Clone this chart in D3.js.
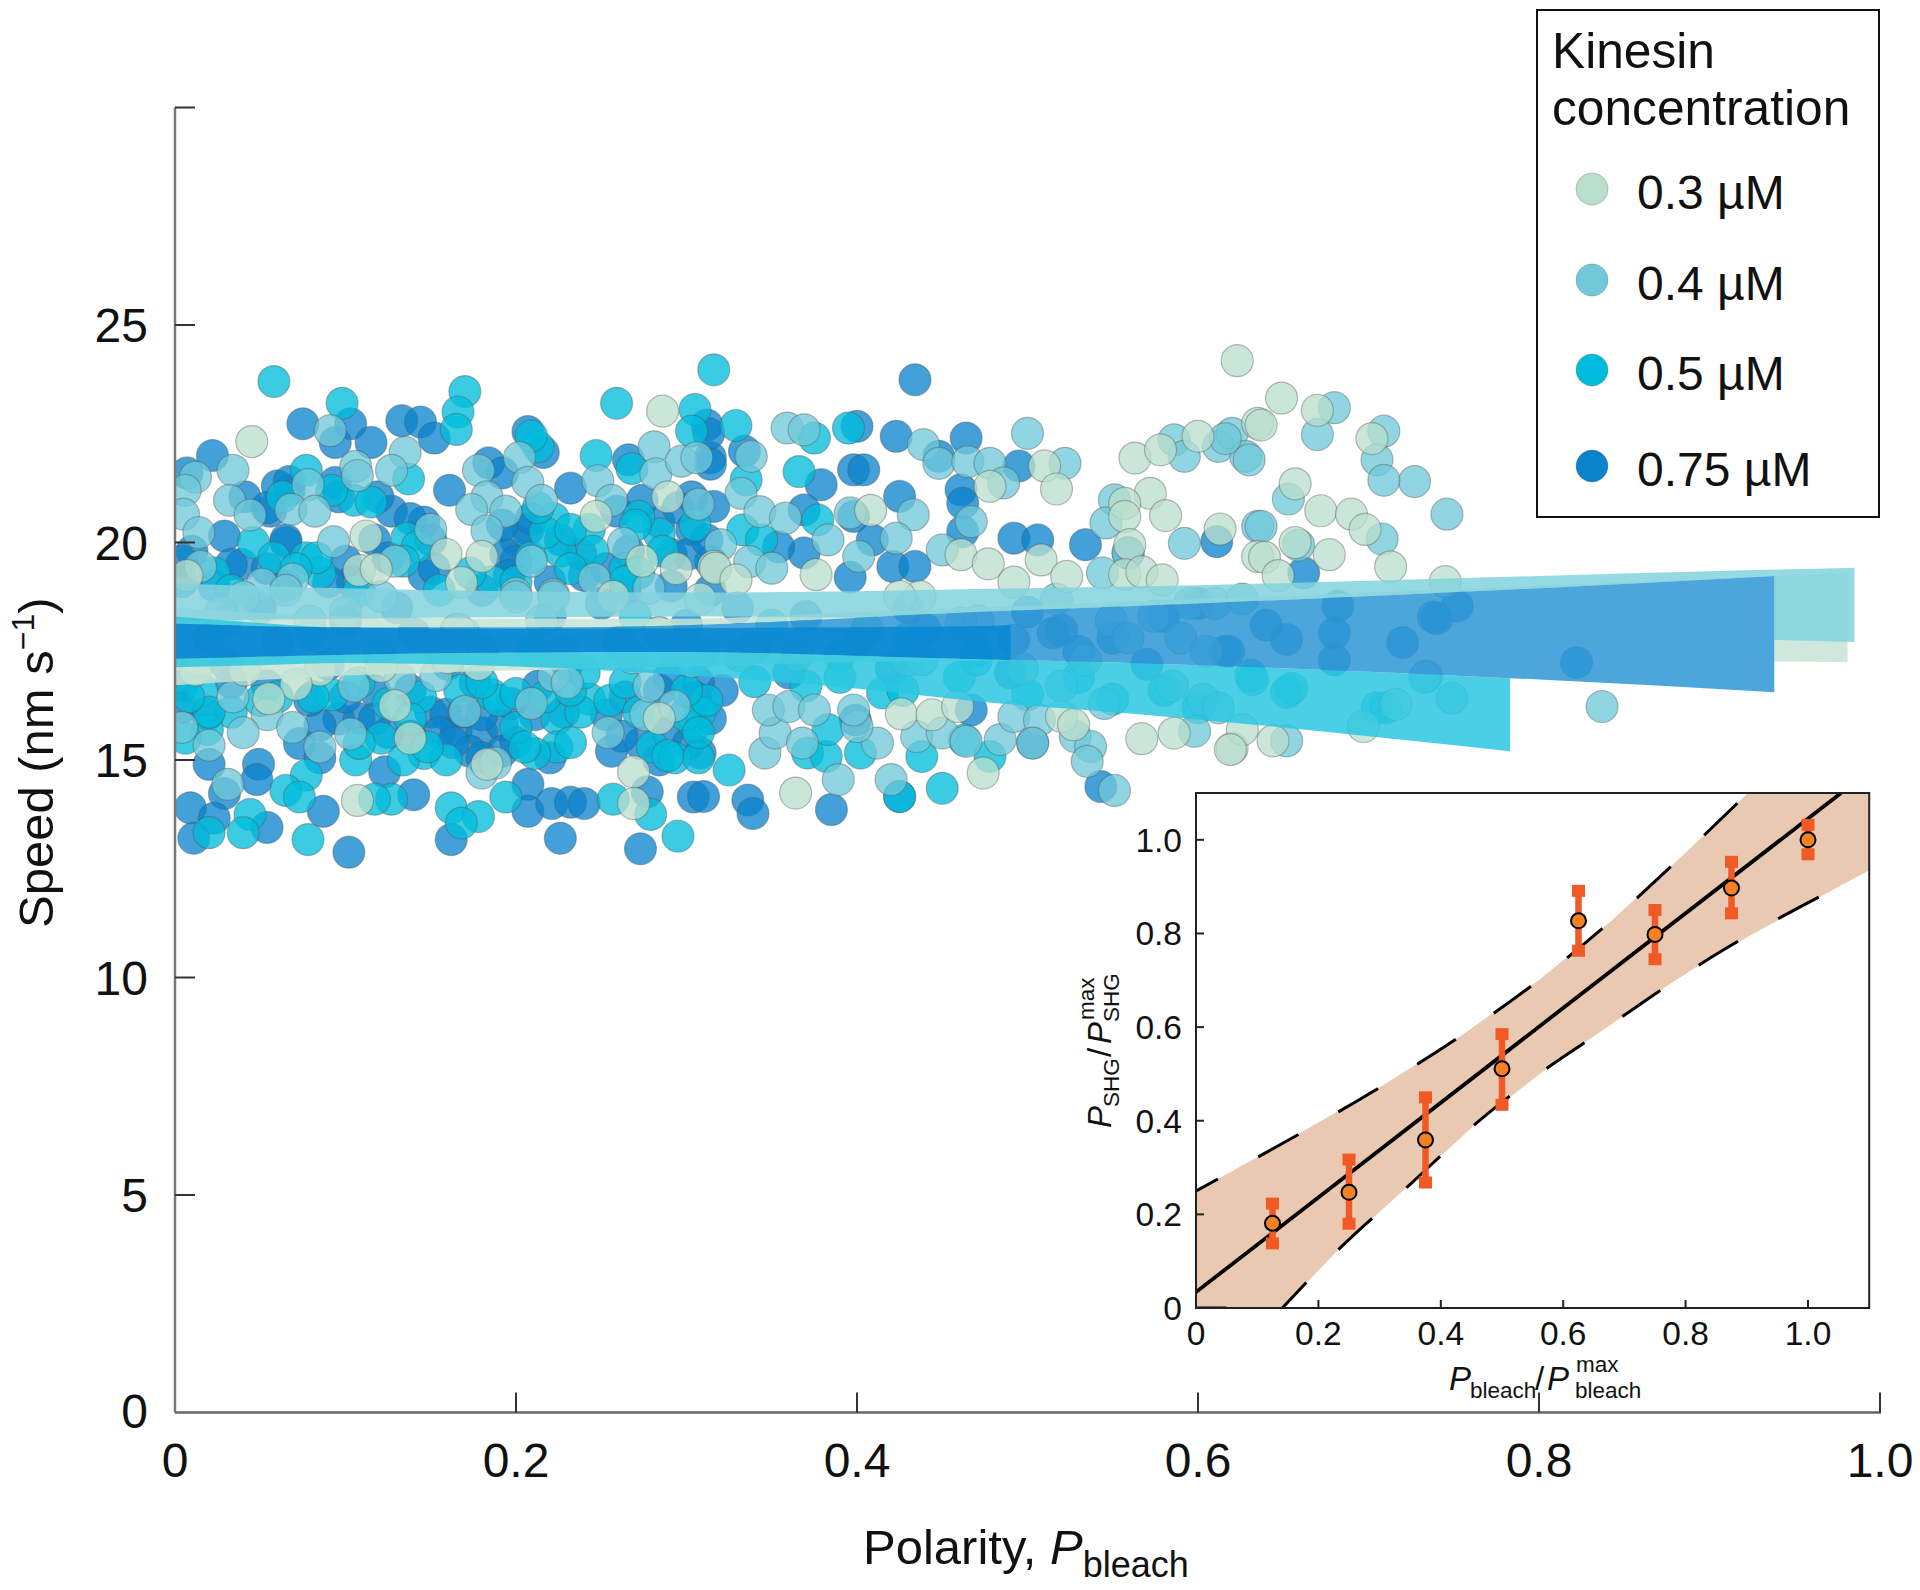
<!DOCTYPE html>
<html><head><meta charset="utf-8">
<script src="https://cdnjs.cloudflare.com/ajax/libs/d3/7.8.5/d3.min.js"></script>
<style>html,body{margin:0;padding:0;background:#fff}svg{display:block}text{font-family:"Liberation Sans",Arial,sans-serif;fill:#111}</style>
</head><body><svg id="c" width="1920" height="1590"></svg>
<script>
// [polarity, speed]
const points075=[[.022,22.0],[.075,22.73],[.103,22.73],[.115,22.3],[.094,22.3],[.133,22.8],[.144,22.77],[.152,22.4],[.207,22.55],[.216,22.07],[.184,21.83],[.192,21.6],[.161,21.2],[.232,21.25],[.266,21.9],[.312,22.7],[.314,21.95],[.007,21.6],[.067,21.2],[.094,21.38],[.041,21.05],[.056,20.72],[.127,20.72],[.146,20.47],[.207,20.3],[.2,20.05],[.303,21.05],[.303,20.3],[.284,20.47],[.029,20.15],[.065,20.0],[.039,19.5],[.1,19.57],[.01,19.8],[.146,19.25],[.194,19.73],[.314,19.57],
[.004,16.7],[.019,16.05],[.096,15.95],[.108,15.95],[.15,16.1],[.165,15.7],[.18,15.63],[.192,15.8],[.192,15.2],[.173,15.2],[.159,16.05],[.073,15.38],[.085,15.05],[.123,14.73],[.22,15.05],[.256,15.2],[.02,14.9],[.049,14.9],[.048,14.55],[.029,14.23],[.009,13.9],[.023,13.66],[.011,13.2],[.054,13.45],[.087,13.82],[.14,14.2],[.207,14.44],[.207,13.82],[.221,14.0],[.232,14.03],[.24,14.0],[.226,13.2],[.273,12.96],[.304,14.15],[.277,14.27],[.102,12.88],[.162,13.17],[.273,15.38],[.305,16.45],
[.434,23.74],[.423,22.44],[.464,22.4],[.4,22.67],[.448,21.98],[.495,21.76],[.398,21.67],[.404,21.67],[.379,21.33],[.313,22.5],[.314,21.8],[.334,22.1],[.461,21.21],[.462,20.9],[.425,21.06],[.369,20.75],[.398,20.6],[.492,20.1],[.506,20.06],[.534,19.95],[.462,20.25],[.369,19.76],[.421,19.45],[.434,19.45],[.409,20.06],[.396,19.2],[.611,20.02],[.559,19.76],[.354,19.9],[.316,20.83],[.321,16.6],[.467,16.15],[.503,15.39],[.543,14.39],[.399,15.92],[.425,14.16],[.336,14.08],[.339,13.77],[.385,13.86],[.31,14.16],[.308,15.16],[.616,17.5],[.515,17.92],[.492,17.76],[.52,17.99],
[.662,19.3],[.74,18.25],[.752,18.54],[.682,18.54],[.68,17.92],[.618,17.5],[.652,17.77],[.822,17.24],[.738,18.29],
[.06,21.3],[.054,20.8],[.067,21.4],[.096,21.05],[.119,21.05],[.138,20.55],[.15,20.06],[.117,20.06],[.065,20.06],[.033,19.5],[.054,19.4],[.192,20.4],[.2,19.57],[.196,19.24],[.209,20.55],[.226,20.06],[.238,19.73],[.253,19.4],[.266,19.8],[.291,19.73],[.301,19.73],[.312,20.06],[.259,20.72],[.274,20.97],[.295,20.8],[.18,18.9],[.152,19.4],[.125,19.65],[.104,19.1],[.09,19.1],[.065,19.0],[.023,19.0],[.004,19.57],[.004,19.1],[.22,19.1],[.24,19.24],[.264,18.9],[.291,19.0],[.314,18.9],
[.155,15.63],[.169,16.1],[.18,16.04],[.197,16.3],[.2,15.4],[.18,15.05],[.163,15.4],[.138,15.55],[.125,15.63],[.117,15.95],[.1,16.45],[.085,15.8],[.079,16.37],[.253,16.04],[.264,16.45],[.262,15.55],[.289,15.63],[.301,15.38],[.314,15.95],[.284,15.0],[.004,16.2],[.033,16.78],[.054,16.7],[.211,16.04],[.228,16.1],[.213,16.7],[.176,16.78],[.138,16.6],[.117,16.6],[.284,16.6],[.307,16.78],
[.02,17.8],[.06,17.7],[.1,18.2],[.14,17.9],[.18,17.5],[.22,18.3],[.26,17.7],[.3,18.1],[.34,17.6],[.37,18.3],[.4,17.7],[.44,18.0],[.47,17.5],[.5,18.4],[.55,17.8],[.58,18.3],[.6,18.6],[.64,18.1],[.68,17.3],[.72,17.7],[.57,17.2],[.53,17.5],[.43,18.5],[.33,18.5],[.25,18.6],[.13,18.5],[.05,18.5],[.03,17.2],[.09,17.2],[.16,17.2],[.23,17.2],[.29,16.9],[.36,17.0],[.42,17.1],[.49,17.0]];
const points05=[[.058,23.7],[.098,23.2],[.17,23.47],[.166,23.0],[.165,22.6],[.259,23.2],[.305,23.06],[.303,22.56],[.247,22.0],[.268,21.7],[.077,21.66],[.137,21.46],[.105,20.97],[.115,20.93],[.222,20.55],[.243,20.3],[.046,20.0],[.077,19.65],[.058,19.65],[.136,20.1],[.209,19.65],[.226,19.8],[.245,19.8],[.264,19.4],[.085,19.3],[.023,19.3],[.186,19.1],[.284,20.2],[.272,20.6],
[.016,16.6],[.033,16.1],[.019,15.7],[.006,15.5],[.092,16.5],[.144,16.45],[.167,16.6],[.186,16.5],[.125,16.3],[.224,15.95],[.2,15.75],[.243,16.4],[.224,15.3],[.211,15.15],[.121,15.5],[.146,15.15],[.159,15.0],[.106,15.0],[.077,14.65],[.065,14.3],[.073,14.15],[.194,14.15],[.232,15.4],[.28,15.3],[.293,15.05],[.307,15.05],[.305,15.8],[.257,14.1],[.279,13.75],[.127,14.1],[.117,14.1],[.044,13.75],[.04,13.33],[.02,13.33],[.078,13.17],[.162,13.9],[.178,13.7],[.168,13.55],[.295,13.25],[.238,16.1],
[.316,23.97],[.329,22.69],[.395,22.63],[.375,22.4],[.366,21.63],[.335,21.44],[.333,20.29],[.344,20.06],[.377,20.52],[.325,14.77],[.371,15.16],[.382,15.08],[.402,15.16],[.438,15.08],[.45,14.35],[.425,14.16],[.478,15.08],[.463,15.46],[.415,16.54],[.427,16.6],[.308,16.1],[.383,15.7],
[.705,16.2],[.632,16.85],[.652,16.56],[.71,16.2],[.655,16.65],[.631,16.95],
[.217,20.23],[.232,20.3],[.27,20.4],[.286,19.8],[.272,19.3],[.232,19.4],[.173,19.3],[.142,19.9],[.134,19.57],[.083,19.65],[.071,19.4],[.063,21.05],[.092,21.2],[.305,20.4],[.213,20.8],[.213,22.2],[.209,22.45],[.264,19.1],[.2,19.1],[.155,18.9],[.108,18.9],[.033,18.9],
[.138,15.95],[.19,16.37],[.2,16.53],[.217,16.45],[.255,16.37],[.272,16.1],[.299,16.04],[.312,16.37],[.289,15.1],[.307,15.63],[.108,15.38],[.134,15],[.148,15.3],[.205,15.3],[.02,16.1],[.008,16.45],[.05,16.37],[.06,16.45],[.081,16.45],[.108,16.78],[.18,16.78],[.232,16.6],[.264,16.78],
[.03,18.2],[.08,17.9],[.12,17.4],[.17,17.9],[.21,17.5],[.27,18.3],[.31,17.5],[.35,18.1],[.39,17.4],[.43,17.8],[.46,16.9],[.34,16.8],[.37,16.7],[.3,16.6],[.24,17],[.53,16.9],[.58,16.6],[.6,16.2],[.55,16.4],[.5,16.5],[.47,17.3],[.39,16.9]];
const points04=[[.034,21.66],[.012,21.5],[.006,21.2],[.005,20.65],[.032,20.97],[.044,20.63],[.091,22.57],[.106,21.75],[.107,21.54],[.135,22.07],[.127,21.66],[.078,21.33],[.068,20.76],[.082,20.72],[.202,21.95],[.178,21.66],[.183,21.05],[.174,20.76],[.194,20.72],[.207,21.38],[.215,20.97],[.248,21.42],[.256,20.97],[.281,22.2],[.282,21.58],[.297,21.87],[.306,21.95],[.307,20.88],[.15,20.3],[.093,20.02],[.183,20.27],[.014,20.23],[.263,19.98],[.015,19.45],[.129,19.57],[.209,19.57],[.246,19.16],[.278,18.95],[.051,19.04],[.069,19.16],[.2,18.83],[.222,18.8],
[.034,16.45],[.054,16.04],[.004,15.75],[.02,15.34],[.04,15.63],[.069,15.75],[.085,15.3],[.103,15.6],[.105,16.7],[.132,16.86],[.153,16.94],[.17,16.12],[.209,16.3],[.222,16.94],[.23,16.78],[.18,14.7],[.188,14.93],[.031,14.44],[.254,15.63],[.276,16.04],[.293,16.24],[.278,16.7],
[.359,22.63],[.369,22.59],[.439,22.25],[.5,22.51],[.522,21.82],[.448,21.82],[.465,21.86],[.478,21.82],[.486,21.37],[.338,21.98],[.332,21.13],[.343,20.71],[.358,20.56],[.396,20.68],[.433,20.64],[.423,20.1],[.467,20.48],[.383,20.06],[.401,19.68],[.337,19.56],[.35,19.41],[.32,19.95],[.45,19.83],[.551,20.98],[.546,20.45],[.544,19.3],[.586,22.36],[.592,21.98],[.612,22.21],[.62,22.51],[.628,21.98],[.592,19.98],[.635,20.37],[.559,19.76],
[.346,15.16],[.352,15.62],[.348,16.15],[.36,16.23],[.375,16.15],[.368,15.39],[.389,14.55],[.42,14.55],[.412,15.39],[.4,15.77],[.435,15.54],[.45,15.62],[.464,15.43],[.484,15.47],[.492,16.0],[.507,15.92],[.528,15.54],[.537,15.31],[.535,14.97],[.551,14.3],[.598,15.66],[.503,15.39],[.398,16.15],
[.68,23.1],[.67,22.48],[.709,22.56],[.705,21.9],[.727,21.4],[.709,21.43],[.746,20.65],[.653,21.0],[.659,19.94],[.637,20.37],[.708,20.08],[.63,21.9],[.616,22.39],[.837,16.23],[.749,16.42],[.734,16.93],[.652,15.44],[.733,16.9],
[.04,18.75],[.065,18.9],[.121,18.75],[.1,18.4],[.2,18.75],[.222,18.75],[.027,18.4],[.291,17.6],[.165,18.0],[.215,18.2],[.284,17.93],[.155,17.6],[.079,18.2],[.228,17.5],[.268,17.35],[.303,17.27],
[.545,16.3],[.52,16.7],[.497,17.1],[.585,16.7],[.603,16.4],[.612,16.2],[.549,18.2],[.574,18.3],[.595,18.6],[.61,18.6],[.517,18.7],[.626,18.7],[.534,17.3],[.559,17.8],[.59,17.8],[.605,17.5],[.471,18.2],[.461,18.15],[.43,17.3],[.438,17.3],[.365,17.4],[.331,17.4],[.406,18.0]];
const points03=[[.045,22.32],[.286,23.02],[.289,21.05],[.247,20.6],[.112,20.15],[.159,19.73],[.18,19.68],[.274,19.57],[.294,19.4],[.108,19.36],[.118,19.39],[.007,19.24],[.168,19.08],[.257,18.76],[.316,19.45],[.308,18.7],[.121,17.15],[.085,17.07],[.178,17.2],[.16,17.35],[.012,17.07],[.041,17.07],[.071,16.74],[.055,16.41],[.129,16.25],[.138,15.5],[.183,14.9],[.107,14.07],[.269,14.73],[.269,14.0],[.284,15.96],[.166,18.0],[.284,17.93],
[.623,24.18],[.563,21.94],[.578,22.13],[.6,22.44],[.635,22.74],[.51,21.76],[.517,21.23],[.478,21.29],[.408,20.74],[.572,21.13],[.557,20.9],[.557,20.6],[.581,20.62],[.613,20.31],[.56,19.95],[.461,19.72],[.477,19.51],[.508,19.6],[.523,19.22],[.492,19.09],[.557,19.26],[.567,19.33],[.579,19.14],[.376,19.26],[.317,19.41],[.329,19.14],[.635,19.68],[.426,16.06],[.444,16.04],[.459,16.23],[.52,16.0],[.527,15.81],[.474,14.7],[.364,14.24],[.567,15.49],[.586,15.62],[.62,15.27],[.626,15.7],[.437,18.76],[.425,18.76],
[.649,23.32],[.67,23.04],[.637,22.7],[.702,22.39],[.657,21.35],[.672,20.73],[.69,20.65],[.698,20.3],[.639,19.66],[.677,19.72],[.657,20.0],[.647,19.24],[.713,19.44],[.745,19.1],[.697,15.77],[.619,15.24],[.644,15.44],[.716,16.28]];

const bandP03=[0,.1,.2,.3,.4,.6,.8,.981], bandHi03=[18.5,18.3,18.25,18.25,18.4,18.7,19.0,19.3], bandLo03=[16.72,16.94,17.06,17.15,17.25,17.3,17.3,17.25];
const bandP04=[0,.1,.2,.3,.4,.5,.6,.7,.8,.9,.985], bandHi04=[19.05,18.95,18.88,18.85,18.88,18.95,19.02,19.12,19.23,19.34,19.42], bandLo04=[18.2,18.25,18.28,18.3,18.27,18.2,18.1,18.0,17.9,17.8,17.71];
const bandP05=[0,.05,.1,.2,.3,.39,.476,.56,.636,.783], bandHi05=[18.3,18.15,18.04,18.02,18.03,18.05,18.08,18.45,18.6,18.9], bandLo05=[17.13,17.18,17.23,17.15,16.95,16.68,16.33,16.07,15.8,15.2];
const bandP075=[0,.1,.2,.3,.45,.6,.8,.938], bandHi075=[18.14,18.05,18.05,18.1,18.37,18.6,18.95,19.23], bandLo075=[17.33,17.42,17.47,17.48,17.34,17.18,16.85,16.56];
const bandColors=["#c7e4d6","#82d2de","#2bc7e2","#2d96d6"], coreColor="#0688d2";

const concLabels=["0.3 µM","0.4 µM","0.5 µM","0.75 µM"];
const concColors=["#b9dfcd","#70c9d9","#00bcdc","#0b83cc"];
const xTicks=[.2,.4,.6,.8,1], yTicks=[5,10,15,20,25,30];
const xTickLabels=["0","0.2","0.4","0.6","0.8","1.0"], yTickLabels=["0","5","10","15","20","25"];

const insetX=[.125,.25,.375,.5,.625,.75,.875,1];
const insetY=[.181,.247,.359,.511,.827,.798,.897,1];
const insetHi=[.223,.317,.45,.585,.891,.85,.953,1.032];
const insetLo=[.138,.18,.268,.434,.763,.745,.843,.969];
const fitX=[0,1.054], fitY=[.034,1.1];
const upperX=[0,.106,.305,.435,.56,.677,.794,.902], upperY=[.25,.326,.475,.583,.70,.825,.965,1.1];
const lowerX=[.141,.236,.349,.461,.582,.643,.772,.842,1.04,1.1], lowerY=[0,.129,.263,.398,.52,.574,.69,.749,.893,.935];
const insetTicks=[.2,.4,.6,.8,1];

const svg=d3.select("#c");
const x=d3.scaleLinear().domain([0,1]).range([175,1880]);
const y=d3.scaleLinear().domain([0,30]).range([1412.5,107.5]);
const defs=svg.append("defs");
defs.append("clipPath").attr("id","plot").append("rect").attr("x",175).attr("y",100).attr("width",1710).attr("height",1320);
const plot=svg.append("g").attr("clip-path","url(#plot)");
[points075,points05,points04,points03].forEach((pts,i)=>{
  plot.append("g").selectAll("circle").data(pts).join("circle")
    .attr("cx",d=>x(d[0])).attr("cy",d=>y(d[1])).attr("r",16)
    .attr("fill",concColors[3-i]).attr("fill-opacity",.77)
    .attr("stroke","#555").attr("stroke-opacity",.4).attr("stroke-width",1.2);
});
function bandPath(P,Hi,Lo){
  return d3.area().x((d,i)=>x(P[i])).y0((d,i)=>y(Lo[i])).y1((d,i)=>y(Hi[i])).curve(d3.curveMonotoneX)(P);
}
const path075=bandPath(bandP075,bandHi075,bandLo075);
const coreEnd=x(.49);
const m1=defs.append("mask").attr("id","noDark").attr("maskUnits","userSpaceOnUse").attr("x",0).attr("y",0).attr("width",1920).attr("height",1590);
m1.append("rect").attr("width",1920).attr("height",1590).attr("fill","#fff");
m1.append("path").attr("d",path075).attr("fill","#000");
function band(P,Hi,Lo,col,mask){
  const p=plot.append("path").attr("d",bandPath(P,Hi,Lo)).attr("fill",col).attr("fill-opacity",.85);
  if(mask)p.attr("mask",`url(#${mask})`);
  return p;
}
band(bandP03,bandHi03,bandLo03,bandColors[0],"noDark");
band(bandP04,bandHi04,bandLo04,bandColors[1],"noDark");
band(bandP05,bandHi05,bandLo05,bandColors[2],"noDark");
band(bandP075,bandHi075,bandLo075,bandColors[3]);
// overlap of the 0.5 and 0.75 bands, darker on the left
defs.append("clipPath").attr("id","inDark").append("path").attr("d",path075);
defs.append("clipPath").attr("id","leftOfCore").append("rect").attr("x",0).attr("y",0).attr("width",coreEnd).attr("height",1590);
plot.append("g").attr("clip-path","url(#leftOfCore)").append("g").attr("clip-path","url(#inDark)")
  .append("path").attr("d",bandPath(bandP05,bandHi05,bandLo05)).attr("fill",coreColor).attr("fill-opacity",.85);

// main axes
const ax=svg.append("g");
ax.append("line").attr("x1",x(0)).attr("x2",x(0)).attr("y1",y(30)).attr("y2",y(0)).attr("stroke","#777").attr("stroke-width",2.5);
ax.append("line").attr("x1",x(0)).attr("x2",x(1)+1).attr("y1",y(0)).attr("y2",y(0)).attr("stroke","#666").attr("stroke-width",2.5);
ax.selectAll(".xt").data(xTicks).join("line").attr("x1",d=>x(d)).attr("x2",d=>x(d)).attr("y1",y(0)).attr("y2",y(0)-20).attr("stroke","#333").attr("stroke-width",2);
ax.selectAll(".yt").data(yTicks).join("line").attr("x1",x(0)).attr("x2",x(0)+20).attr("y1",d=>y(d)).attr("y2",d=>y(d)).attr("stroke","#333").attr("stroke-width",2);
ax.selectAll(".xl").data([0,...xTicks]).join("text").attr("x",d=>x(d)).attr("y",1477).attr("text-anchor","middle").attr("font-size",48).text((d,i)=>xTickLabels[i]);
ax.selectAll(".yl").data([0,5,10,15,20,25]).join("text").attr("x",148).attr("y",d=>y(d)+(d===0?15:17)).attr("text-anchor","end").attr("font-size",48).text((d,i)=>yTickLabels[i]);
const xt=svg.append("text").attr("x",863).attr("y",1564).attr("font-size",49);
xt.append("tspan").text("Polarity, ");
xt.append("tspan").attr("font-style","italic").text("P");
xt.append("tspan").attr("font-size",36).attr("dy",13).text("bleach");
const yt=svg.append("text").attr("transform","translate(53,928) rotate(-90)").attr("font-size",49);
yt.append("tspan").text("Speed (nm s");
yt.append("tspan").attr("font-size",32).attr("dy",-19).text("−1");
yt.append("tspan").attr("dy",19).text(")");

// legend
const lg=svg.append("g");
lg.append("rect").attr("x",1537).attr("y",10).attr("width",342).attr("height",507).attr("fill","#fff").attr("stroke","#111").attr("stroke-width",2);
lg.append("text").attr("x",1552).attr("y",68).attr("font-size",49.7).text("Kinesin");
lg.append("text").attr("x",1552).attr("y",125).attr("font-size",49.7).text("concentration");
const legendCy=[189,280,370,466], legendBase=[209,300,390,486];
lg.selectAll("circle").data(concLabels).join("circle").attr("cx",1592).attr("cy",(d,i)=>legendCy[i]).attr("r",16).attr("fill",(d,i)=>concColors[i]).attr("stroke","#666").attr("stroke-opacity",.35);
lg.selectAll(".lt").data(concLabels).join("text").attr("x",1637).attr("y",(d,i)=>legendBase[i]).attr("font-size",48).text(d=>d);

// inset
const ix=d3.scaleLinear().domain([0,1.1]).range([1196,1869.2]);
const iy=d3.scaleLinear().domain([0,1.1]).range([1308,793]);
defs.append("clipPath").attr("id","ins").append("rect").attr("x",1196).attr("y",793).attr("width",673.2).attr("height",515);
const ins=svg.append("g");
ins.append("rect").attr("x",1196).attr("y",793).attr("width",673.2).attr("height",515).attr("fill","#fff");
const ic=ins.append("g").attr("clip-path","url(#ins)");
const upPts=upperX.map((d,i)=>[d,upperY[i]]), loPts=lowerX.map((d,i)=>[d,lowerY[i]]);
const poly=[...upPts,[1.1,1.1],...loPts.slice().reverse(),[0,0]];
ic.append("path").attr("d",d3.line().x(d=>ix(d[0])).y(d=>iy(d[1]))(poly)).attr("fill","#e9c9b2");
const ln=d3.line().x(d=>ix(d[0])).y(d=>iy(d[1])).curve(d3.curveMonotoneX);
ic.append("path").attr("d",ln(upPts)).attr("fill","none").attr("stroke","#000").attr("stroke-width",3).attr("stroke-dasharray","46 46").attr("stroke-dashoffset",21);
ic.append("path").attr("d",ln([[0,0],[.05,0]])).attr("fill","none").attr("stroke","#000").attr("stroke-width",3);
ic.append("path").attr("d",ln(loPts.slice(0,-1))).attr("fill","none").attr("stroke","#000").attr("stroke-width",3).attr("stroke-dasharray","46 46").attr("stroke-dashoffset",11);
ic.append("path").attr("d",ln(fitX.map((d,i)=>[d,fitY[i]]))).attr("fill","none").attr("stroke","#000").attr("stroke-width",3.8);
ins.append("rect").attr("x",1196).attr("y",793).attr("width",673.2).attr("height",515).attr("fill","none").attr("stroke","#222").attr("stroke-width",2);
ins.selectAll(".ixt").data(insetTicks).join("line").attr("x1",d=>ix(d)).attr("x2",d=>ix(d)).attr("y1",1308).attr("y2",1300).attr("stroke","#222").attr("stroke-width",2);
ins.selectAll(".iyt").data(insetTicks).join("line").attr("y1",d=>iy(d)).attr("y2",d=>iy(d)).attr("x1",1196).attr("x2",1204).attr("stroke","#222").attr("stroke-width",2);
ins.selectAll(".ixl").data([0,...insetTicks]).join("text").attr("x",d=>ix(d)).attr("y",1345).attr("text-anchor","middle").attr("font-size",33.5).text(d=>d===0?"0":d3.format(".1f")(d));
ins.selectAll(".iyl").data([0,...insetTicks]).join("text").attr("x",1182).attr("y",d=>iy(d)+12).attr("text-anchor","end").attr("font-size",33.5).text(d=>d===0?"0":d3.format(".1f")(d));
const orange="#f15a24";
insetX.forEach((v,i)=>{
  ins.append("line").attr("x1",ix(v)).attr("x2",ix(v)).attr("y1",iy(insetHi[i])).attr("y2",iy(insetLo[i])).attr("stroke",orange).attr("stroke-width",6.5);
  [insetHi[i],insetLo[i]].forEach(e=>ins.append("rect").attr("x",ix(v)-6.5).attr("y",iy(e)-6).attr("width",13).attr("height",12).attr("fill",orange));
  ins.append("circle").attr("cx",ix(v)).attr("cy",iy(insetY[i])).attr("r",7.5).attr("fill","#f58220").attr("stroke","#000").attr("stroke-width",2);
});
// inset x label
const tx=(g,xp,yp,fs,t,it)=>g.append("text").attr("x",xp).attr("y",yp).attr("font-size",fs).attr("font-style",it?"italic":"normal").text(t);
tx(svg,1449,1390,33,"P",true);tx(svg,1470,1398,22.5,"bleach");tx(svg,1535,1390,33,"/");tx(svg,1547,1390,33,"P",true);tx(svg,1576,1372,22.5,"max");tx(svg,1575,1398,22.5,"bleach");
// inset y label
const gy=svg.append("g").attr("transform","translate(1111,1128) rotate(-90)");
tx(gy,0,0,33,"P",true);tx(gy,21,8,22.5,"SHG");tx(gy,71,0,33,"/");tx(gy,84,0,33,"P",true);tx(gy,106,8,22.5,"SHG");tx(gy,108,-17,22.5,"max");
</script></body></html>
